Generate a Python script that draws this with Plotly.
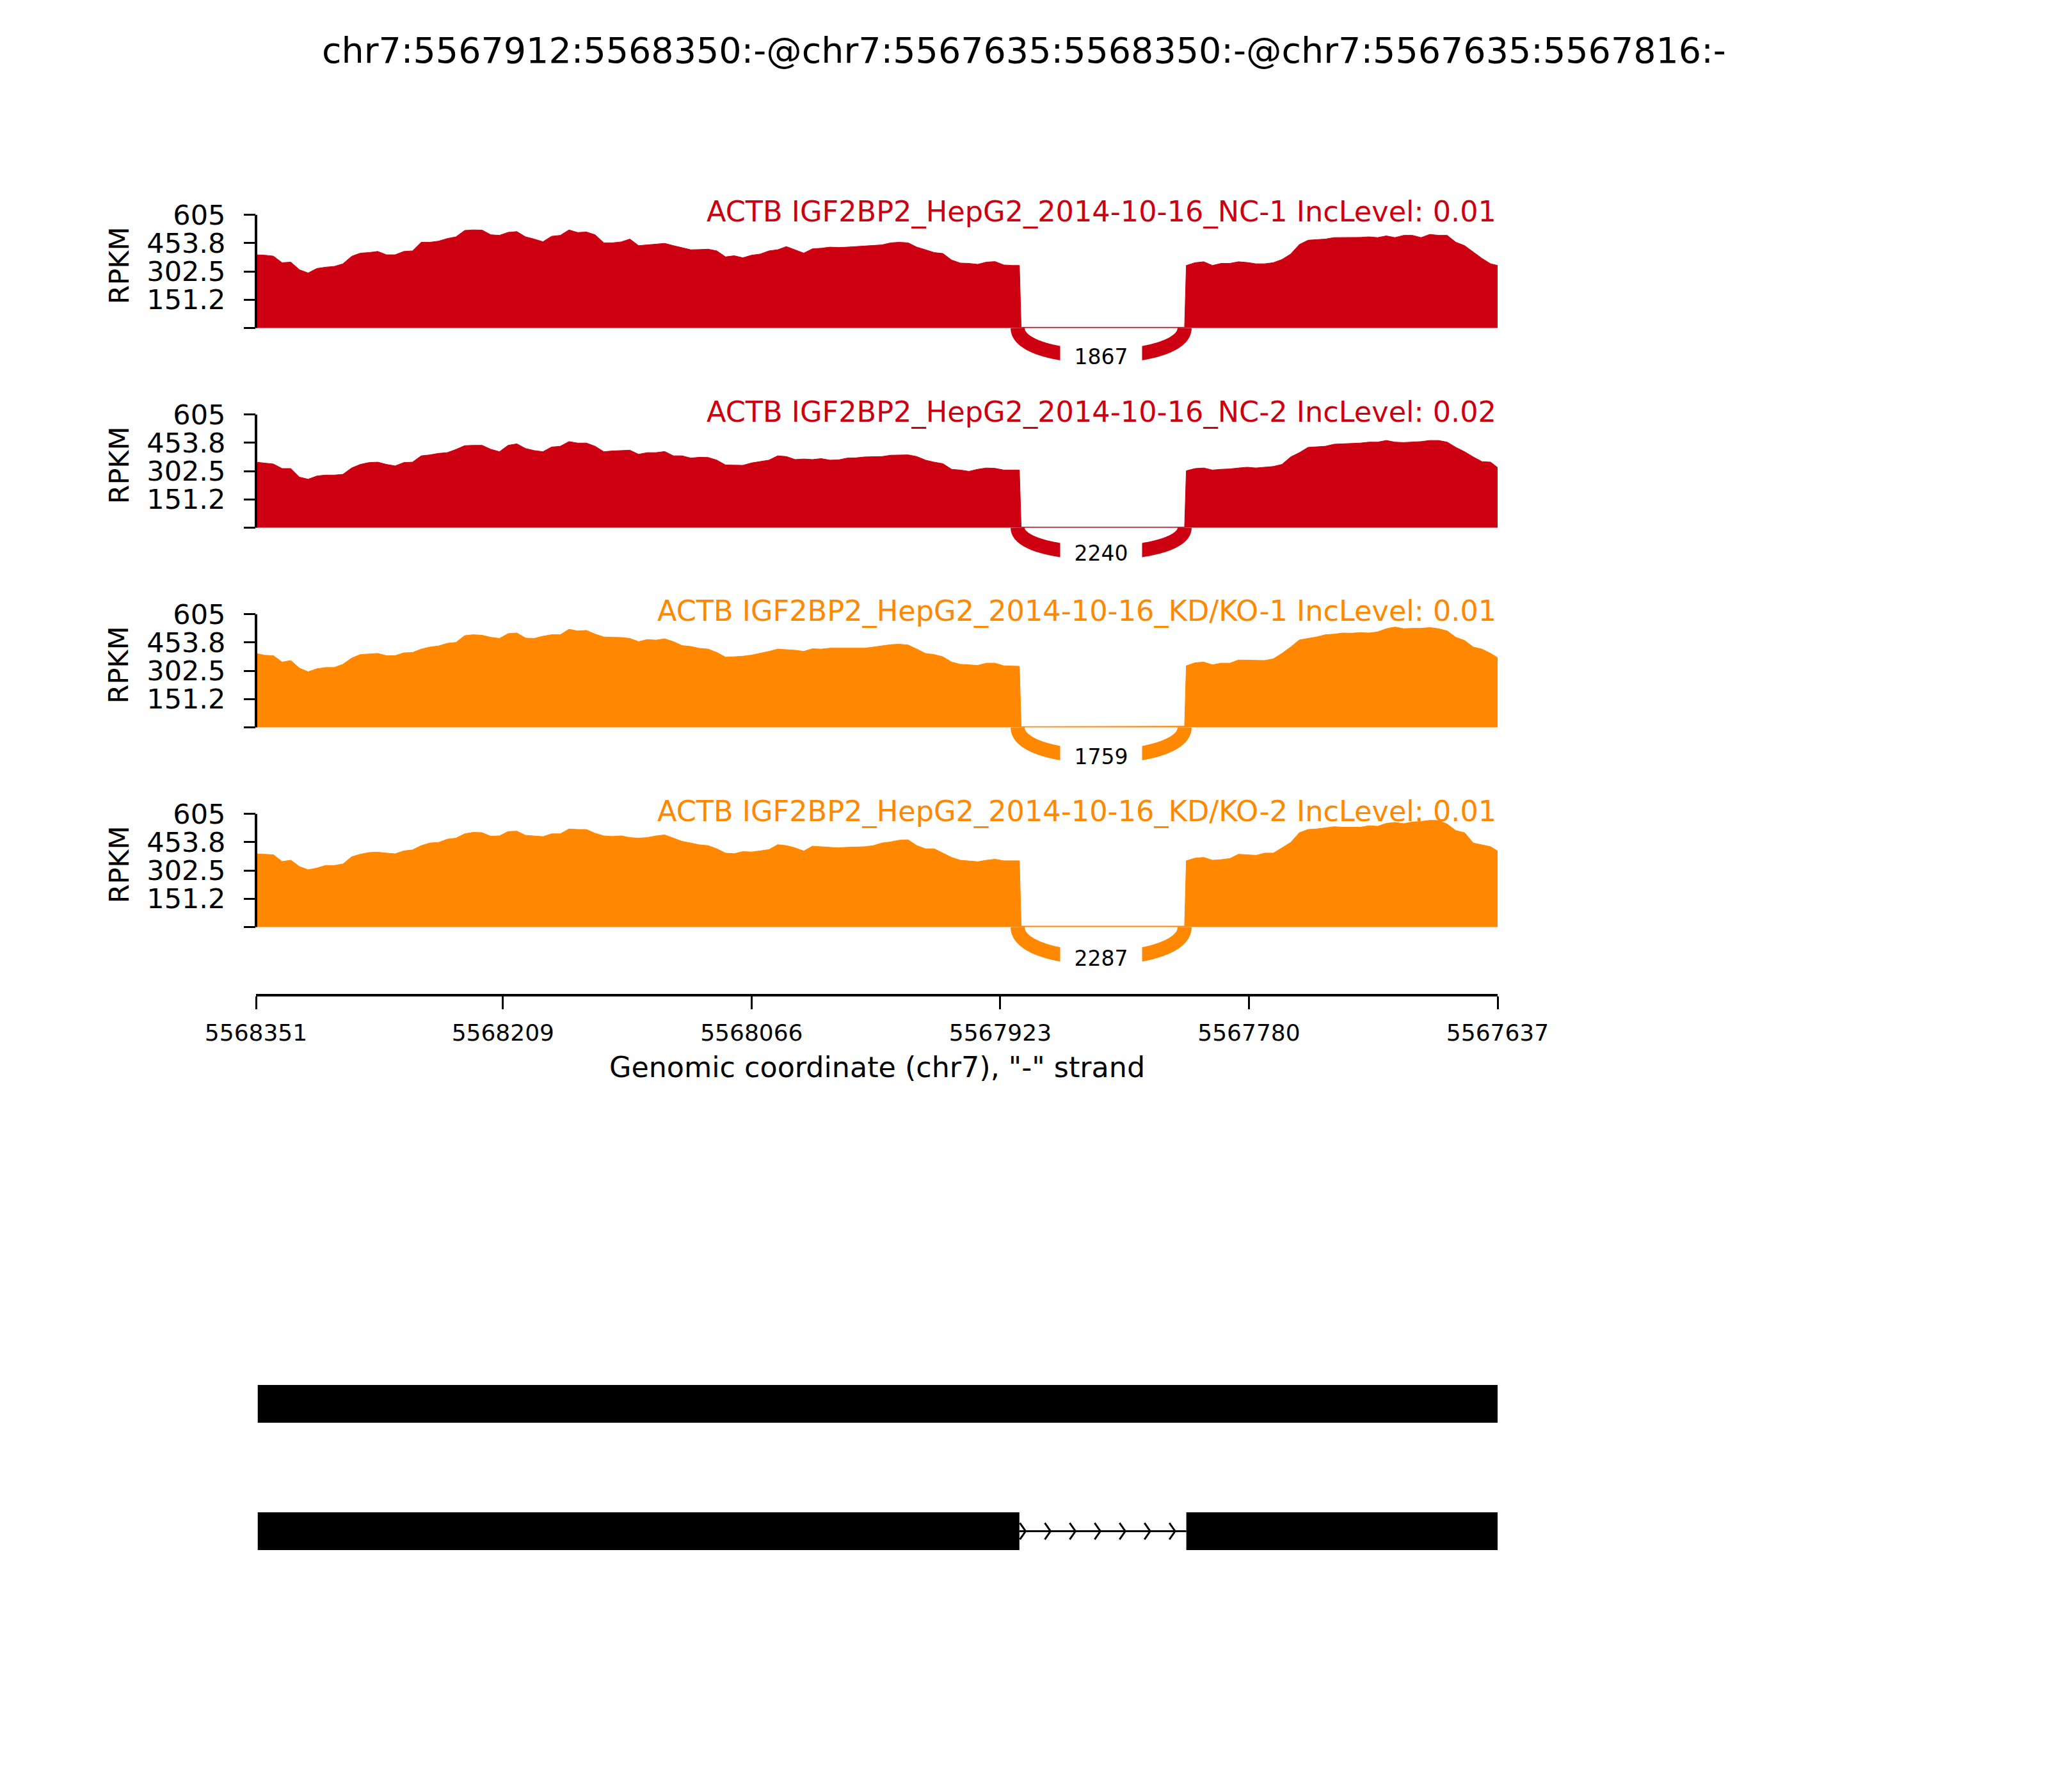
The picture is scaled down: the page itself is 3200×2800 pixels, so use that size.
import numpy as np
import plotly.graph_objects as go

# ---------------- data ----------------
title_text = "chr7:5567912:5568350:-@chr7:5567635:5568350:-@chr7:5567635:5567816:-"
sample_names = ["ACTB IGF2BP2_HepG2_2014-10-16_NC-1",
                "ACTB IGF2BP2_HepG2_2014-10-16_NC-2",
                "ACTB IGF2BP2_HepG2_2014-10-16_KD/KO-1",
                "ACTB IGF2BP2_HepG2_2014-10-16_KD/KO-2"]
inc_levels = [0.01, 0.02, 0.01, 0.01]
sample_colors = ["#CC0011", "#CC0011", "#FF8800", "#FF8800"]
junction_counts = [1867, 2240, 1759, 2287]
junction = [5567913, 5567817]

x_range = [5568351, 5567637]
x_ticks = [5568351, 5568209, 5568066, 5567923, 5567780, 5567637]
y_ticks = [0, 151.25, 302.5, 453.75, 605]
y_ticktext = ["", "151.2", "302.5", "453.8", "605"]

# sampling positions (every 5 bp) of the coverage
exon1_pos = list(range(5568351, 5567915, -5)) + [5567912]
intron_pos = [5567911, 5567817]
exon2_pos = list(range(5567816, 5567640, -5)) + [5567637]

nc1_exon1 = [391, 389, 384, 349, 352, 311, 294, 318, 325, 329, 343, 383, 400, 403, 409, 391, 391,
             409, 412, 458, 458, 464, 478, 487, 521, 524, 523, 498, 495, 511, 515, 487, 475, 461,
             490, 495, 524, 510, 513, 498, 455, 455, 460, 475, 440, 444, 446, 452, 440, 429, 418,
             419, 421, 412, 380, 386, 375, 389, 395, 412, 418, 435, 418, 400, 423, 426, 432, 430,
             432, 435, 437, 442, 444, 455, 458, 455, 432, 418, 403, 398, 363, 347, 345, 340, 352,
             355, 337, 334, 334]
nc1_intron = [4, 4]
nc1_exon2 = [334, 349, 354, 334, 345, 345, 354, 350, 343, 343, 349, 366, 395, 446, 469, 472, 475,
             483, 483, 484, 484, 487, 483, 492, 483, 495, 495, 483, 500, 495, 495, 458, 440, 406,
             372, 343, 334]

nc2_exon1 = [350, 346, 340, 316, 316, 270, 259, 276, 281, 281, 285, 319, 338, 348, 350, 338, 330,
             348, 350, 384, 389, 397, 401, 418, 438, 440, 440, 419, 406, 440, 448, 423, 412, 406,
             431, 435, 460, 452, 452, 435, 406, 410, 412, 414, 392, 401, 401, 407, 384, 384, 372,
             376, 375, 361, 335, 333, 333, 346, 353, 361, 384, 380, 364, 367, 364, 369, 361, 362,
             372, 373, 378, 378, 380, 387, 389, 389, 380, 361, 350, 342, 312, 308, 301, 312, 319,
             317, 308, 308, 308]
nc2_intron = [3, 3]
nc2_exon2 = [304, 316, 319, 308, 312, 314, 319, 323, 319, 323, 327, 338, 378, 401, 429, 432, 435,
             446, 448, 451, 452, 457, 457, 466, 457, 455, 457, 460, 466, 466, 457, 429, 406, 378,
             353, 350, 321]

kd1_exon1 = [395, 385, 383, 349, 357, 316, 297, 313, 320, 320, 337, 370, 389, 393, 395, 383, 383,
             398, 400, 418, 429, 435, 449, 454, 490, 495, 492, 481, 475, 501, 504, 477, 475, 487,
             495, 495, 524, 515, 518, 498, 483, 481, 480, 475, 458, 469, 466, 473, 458, 437, 432,
             422, 418, 400, 375, 377, 380, 386, 395, 406, 418, 416, 412, 406, 420, 418, 423, 423,
             423, 421, 423, 429, 435, 442, 444, 440, 418, 395, 389, 377, 349, 337, 334, 331, 343,
             343, 329, 327, 326]
kd1_intron = [4, 6]
kd1_exon2 = [329, 345, 349, 334, 343, 343, 360, 359, 357, 357, 366, 395, 429, 467, 475, 483, 495,
             498, 504, 503, 506, 504, 510, 527, 536, 527, 529, 529, 533, 527, 515, 481, 464, 429,
             418, 395, 372]

kd2_exon1 = [391, 388, 386, 350, 357, 323, 306, 315, 329, 329, 337, 375, 389, 398, 400, 395, 391,
             407, 412, 435, 449, 452, 469, 475, 498, 506, 504, 485, 487, 510, 512, 490, 487, 483,
             498, 498, 524, 521, 521, 501, 487, 484, 487, 478, 475, 478, 487, 492, 475, 458, 449,
             439, 435, 418, 395, 392, 403, 401, 407, 414, 440, 435, 423, 406, 432, 429, 426, 423,
             426, 427, 429, 435, 449, 455, 464, 466, 435, 418, 418, 395, 372, 357, 354, 349, 357,
             362, 354, 354, 354]
kd2_intron = [5, 5]
kd2_exon2 = [354, 368, 372, 357, 360, 366, 389, 385, 383, 395, 395, 423, 452, 504, 521, 524, 529,
             536, 533, 534, 533, 541, 538, 554, 559, 552, 561, 564, 570, 569, 550, 515, 504, 449,
             440, 429, 406]

coverage = [(nc1_exon1, nc1_intron, nc1_exon2),
            (nc2_exon1, nc2_intron, nc2_exon2),
            (kd1_exon1, kd1_intron, kd1_exon2),
            (kd2_exon1, kd2_intron, kd2_exon2)]

# gene structures (genomic exon bounds), top row first
isoforms = [[(5568350, 5567635)],
            [(5568350, 5567912), (5567816, 5567635)]]

# ---------------- layout helpers ----------------
W, H = 3200, 2800
M = 8                      # default body margin of the html page
FW, FH = W - 2 * M, H - 2 * M


def PX(px):
    return (px - M) / FW


def PY(py):
    return 1 - (py - M) / FH


FONT = "DejaVu Sans"
zeros = [512.5, 824.5, 1136.5, 1448.5]   # pixel row of y=0 in each panel
k = 177.0 / 605.0                         # px per RPKM unit
y_lo = -300
x_dom = [PX(400), PX(2340)]

fig = go.Figure()
layout = dict(template="none", width=FW, height=FH, autosize=False,
              margin=dict(l=0, r=0, t=0, b=0, pad=0),
              plot_bgcolor="white", paper_bgcolor="white", showlegend=False,
              font=dict(family=FONT, color="black"))
shapes = []
annotations = []

all_pos = exon1_pos + intron_pos + exon2_pos

for i in range(4):
    n = i + 1
    xa = "x" if n == 1 else f"x{n}"
    ya = "y" if n == 1 else f"y{n}"
    xkey = "xaxis" if n == 1 else f"xaxis{n}"
    ykey = "yaxis" if n == 1 else f"yaxis{n}"
    z = zeros[i]
    col = sample_colors[i]
    e1, intr, e2 = coverage[i]
    vals = e1 + intr + e2

    fig.add_trace(go.Scatter(x=all_pos, y=vals, mode="lines", fill="tozeroy",
                             fillcolor=col, line=dict(color=col, width=1),
                             xaxis=xa, yaxis=ya, hoverinfo="skip"))

    # junction arc (cubic bezier below the axis)
    bottom = -0.29 * max(vals)
    h = bottom / 0.75
    j0, j1 = junction
    t = np.linspace(0, 1, 200)
    P = np.array([[j0, 0], [j0, h], [j1, h], [j1, 0]], dtype=float)
    bx = ((1 - t) ** 3) * P[0, 0] + 3 * ((1 - t) ** 2) * t * P[1, 0] + 3 * (1 - t) * t ** 2 * P[2, 0] + t ** 3 * P[3, 0]
    by = ((1 - t) ** 3) * P[0, 1] + 3 * ((1 - t) ** 2) * t * P[1, 1] + 3 * (1 - t) * t ** 2 * P[2, 1] + t ** 3 * P[3, 1]
    fig.add_trace(go.Scatter(x=bx, y=by, mode="lines",
                             line=dict(color=col, width=22, simplify=False),
                             xaxis=xa, yaxis=ya, hoverinfo="skip"))
    annotations.append(dict(x=(j0 + j1) / 2, y=bottom, xref=xa, yref=ya,
                            text=str(junction_counts[i]), showarrow=False,
                            font=dict(size=33, color="black", family=FONT),
                            bgcolor="white", width=125, height=38,
                            xanchor="center", yanchor="middle"))

    # axes
    xaxis = dict(domain=x_dom, range=x_range, anchor=ya, showgrid=False, zeroline=False,
                 automargin=False)
    if n < 4:
        xaxis.update(showticklabels=False, ticks="", showline=False)
    else:
        xaxis.update(anchor="free", position=PY(1555), showline=True, linewidth=4,
                     linecolor="black", ticks="outside", ticklen=20, tickwidth=3,
                     tickcolor="black", tickvals=x_ticks,
                     ticktext=[str(v) for v in x_ticks],
                     tickfont=dict(size=36, family=FONT, color="black"),
                     ticklabelstandoff=6)
    if n > 1:
        xaxis["matches"] = "x"
    layout[xkey] = xaxis

    layout[ykey] = dict(domain=[PY(z + (0 - y_lo) * k), PY(z - 605 * k)],
                        range=[y_lo, 605], anchor=xa, showgrid=False, zeroline=False,
                        showline=False, ticks="outside", ticklen=18, tickwidth=3,
                        tickcolor="black", tickvals=y_ticks, ticktext=y_ticktext,
                        tickfont=dict(size=43, family=FONT, color="black"),
                        ticklabelstandoff=20, automargin=False)
    # left spine only from 0 to max
    shapes.append(dict(type="line", xref="paper", yref=ya, x0=PX(400), x1=PX(400),
                       y0=0, y1=605, line=dict(color="black", width=4)))

    # panel title and y label
    annotations.append(dict(x=PX(2340), y=PY(z - 181), xref="paper", yref="paper",
                            text=f"{sample_names[i]} IncLevel: {inc_levels[i]}",
                            showarrow=False, xanchor="right", yanchor="middle",
                            font=dict(size=44.6, color=col, family=FONT)))
    annotations.append(dict(x=PX(185), y=PY(z - 97), xref="paper", yref="paper",
                            text="RPKM", textangle=-90, showarrow=False,
                            xanchor="center", yanchor="middle",
                            font=dict(size=43, color="black", family=FONT)))

# gene structure track
layout["xaxis5"] = dict(domain=x_dom, range=x_range, anchor="y5", visible=False, matches="x",
                        automargin=False)
layout["yaxis5"] = dict(domain=[PY(2591.5), PY(1994.5)], range=[-1, 2], anchor="x5",
                        visible=False, automargin=False)
rows = [1, 0]
half = 0.148
lo_x, hi_x = min(x_range), max(x_range)
for row, exons in zip(rows, isoforms):
    for (a, b) in exons:
        x0 = min(max(a, lo_x), hi_x)
        x1 = min(max(b, lo_x), hi_x)
        shapes.append(dict(type="rect", xref="x5", yref="y5", x0=x0, x1=x1,
                           y0=row - half, y1=row + half,
                           fillcolor="black", line=dict(width=0)))
    # introns with chevrons
    for (a, b), (c, d) in zip(exons[:-1], exons[1:]):
        fig.add_trace(go.Scatter(x=[b, c], y=[row, row], mode="lines",
                                 line=dict(color="black", width=3),
                                 xaxis="x5", yaxis="y5", hoverinfo="skip"))
        ilen = b - c
        tips = b - (np.arange(7) + 0.25) * ilen / 6.7
        cx, cy = [], []
        for tp in tips:
            cx += [tp + 3.3, tp, tp + 3.3, None]
            cy += [row + 0.065, row, row - 0.065, None]
        fig.add_trace(go.Scatter(x=cx, y=cy, mode="lines",
                                 line=dict(color="black", width=3),
                                 xaxis="x5", yaxis="y5", hoverinfo="skip"))

# main title and x axis title
annotations.append(dict(x=PX(1600), y=PY(79), xref="paper", yref="paper", text=title_text,
                        showarrow=False, xanchor="center", yanchor="middle",
                        font=dict(size=55.5, color="black", family=FONT)))
annotations.append(dict(x=PX(1370), y=PY(1667), xref="paper", yref="paper",
                        text='Genomic coordinate (chr7), "-" strand', showarrow=False,
                        xanchor="center", yanchor="middle",
                        font=dict(size=44.4, color="black", family=FONT)))

layout["shapes"] = shapes
layout["annotations"] = annotations
fig.update_layout(**layout)
fig.write_html("out.html", config={"displayModeBar": False})
